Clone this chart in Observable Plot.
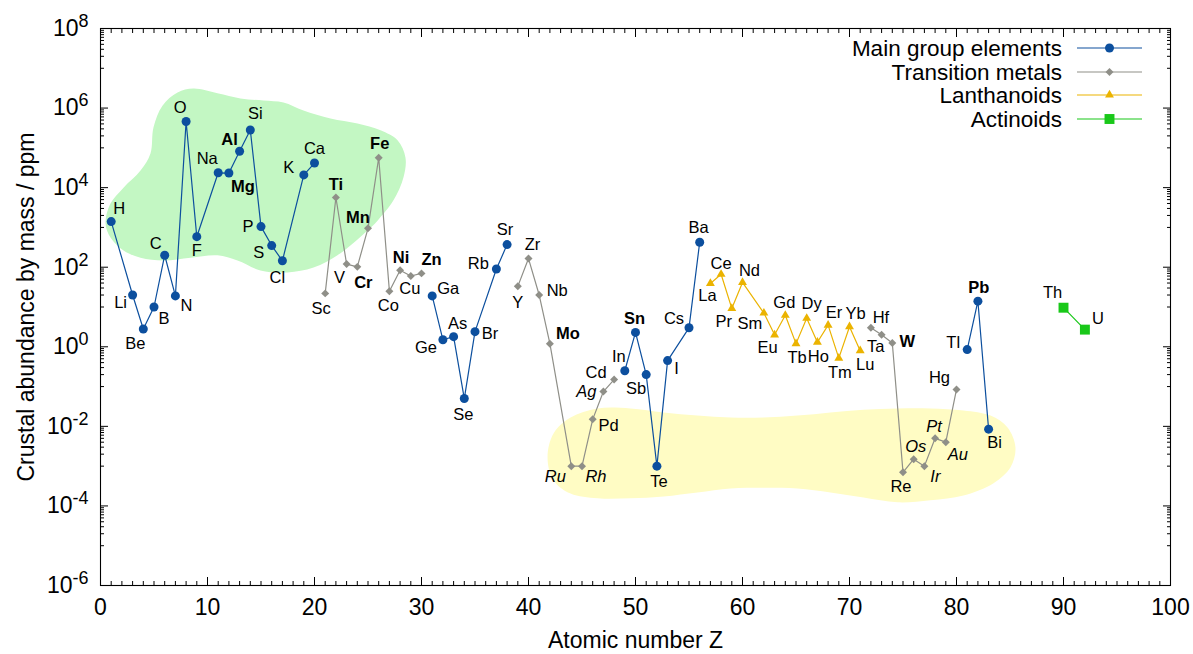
<!DOCTYPE html>
<html><head><meta charset="utf-8">
<script src="https://cdn.jsdelivr.net/npm/d3@7"></script>
<script src="https://cdn.jsdelivr.net/npm/@observablehq/plot@0.6"></script>
<style>
html,body{margin:0;padding:0;background:#fff;}
#chart{width:1193px;height:654px;}
</style></head><body><div id="chart"></div>
<script>
// ---------- data ----------
const mainSymbols = ["H","Li","Be","B","C","N","O","F","Na","Mg","Al","Si","P","S","Cl","K","Ca","Ga","Ge","As","Se","Br","Rb","Sr","In","Sn","Sb","Te","I","Cs","Ba","Tl","Pb","Bi"];
const mainZ = [1,3,4,5,6,7,8,9,11,12,13,14,15,16,17,19,20,31,32,33,34,35,37,38,49,50,51,52,53,55,56,81,82,83];
const mainPpm = [1400,20,2.8,10,200,19,461000,585,23600,23300,82300,282000,1050,350,145,20900,41500,19,1.5,1.8,0.05,2.4,90,370,0.25,2.3,0.2,0.001,0.45,3,425,0.85,14,0.0085];

const transSymbols = ["Sc","Ti","V","Cr","Mn","Fe","Co","Ni","Cu","Zn","Y","Zr","Nb","Mo","Ru","Rh","Pd","Ag","Cd","Hf","Ta","W","Re","Os","Ir","Pt","Au","Hg"];
const transZ = [21,22,23,24,25,26,27,28,29,30,39,40,41,42,44,45,46,47,48,72,73,74,75,76,77,78,79,80];
const transPpm = [22,5650,120,102,950,56300,25,84,60,70,33,165,20,1.2,0.001,0.001,0.015,0.075,0.15,3.0,2.0,1.25,0.0007,0.0015,0.001,0.005,0.004,0.085];

const lanSymbols = ["La","Ce","Pr","Nd","Sm","Eu","Gd","Tb","Dy","Ho","Er","Tm","Yb","Lu"];
const lanZ = [57,58,59,60,62,63,64,65,66,67,68,69,70,71];
const lanPpm = [39,66.5,9.2,41.5,7.05,2.0,6.2,1.2,5.2,1.3,3.5,0.52,3.2,0.8];

const actSymbols = ["Th","U"];
const actZ = [90,92];
const actPpm = [9.6,2.7];

const groupNames = ["Main group elements","Transition metals","Lanthanoids","Actinoids"];

// highlighted regions, outline as [Z, log10(ppm)]
const greenRegion = [[0.47,3.10],[0.93,3.60],[2.15,4.00],[3.74,4.43],[4.67,4.86],[4.95,5.51],[5.79,6.06],[7.2,6.39],[8.69,6.49],[10.93,6.37],[13.08,6.24],[15.23,6.19],[17.1,6.14],[18.97,5.94],[21.5,5.74],[24.02,5.61],[26.17,5.44],[27.76,5.19],[28.5,4.76],[28.32,4.26],[27.38,3.68],[25.89,3.17],[24.95,2.92],[22.43,2.35],[19.91,1.99],[17.48,1.87],[14.95,1.92],[12.8,2.17],[10.93,2.30],[8.41,2.24],[5.89,2.17],[3.74,2.24],[2.15,2.42],[0.93,2.75]];
const yellowRegion = [[41.78,-2.78],[42.34,-2.18],[43.93,-1.78],[46.45,-1.55],[49.53,-1.55],[52.62,-1.65],[55.79,-1.73],[58.88,-1.78],[61.96,-1.78],[65.14,-1.73],[68.22,-1.65],[71.31,-1.58],[74.49,-1.55],[77.57,-1.55],[80.65,-1.6],[83.18,-1.73],[84.77,-2.03],[85.51,-2.53],[85.05,-3.03],[83.46,-3.43],[80.65,-3.74],[77.57,-3.86],[74.49,-3.91],[71.31,-3.79],[68.22,-3.66],[65.14,-3.56],[61.96,-3.54],[58.88,-3.56],[55.79,-3.66],[52.62,-3.76],[49.53,-3.81],[46.45,-3.81],[43.93,-3.69],[42.34,-3.36]];

const xMajorTicks = d3.range(0, 101, 10);
const yMajorTicks = [1e-6,1e-4,1e-2,1,1e2,1e4,1e6,1e8];

// ---------- styles (kept apart from data) ----------
const boldLabels = new Set(["Al","Mg","Ti","Mn","Fe","Ni","Cr","Zn","Mo","Sn","W","Pb"]);
const italicLabels = new Set(["Ru","Rh","Ag","Os","Ir","Pt","Au"]);
const labelOffset = {
  H:[8,-13],Li:[-12,8],Be:[-8,15],B:[10,12],C:[-9,-12],N:[11,10],O:[-6,-14],F:[0,14],Na:[-11,-14],Mg:[14,14],Al:[-10,-12],Si:[5,-16],P:[-13,0],S:[-13,7],Cl:[-5,17],K:[-15,-7],Ca:[0,-14],
  Sc:[-4,15],Ti:[0,-13],V:[-7,14],Cr:[6,16],Mn:[-10,-11],Fe:[1,-14],Co:[-1,15],Ni:[1,-13],Cu:[-1,13],Zn:[10,-14],Ga:[16,-7],Ge:[-17,8],As:[4,-13],Se:[-1,16],Br:[15,2],Rb:[-18,-5],Sr:[-2,-15],
  Y:[0,16],Zr:[4,-14],Nb:[18,-4],Mo:[18,-10],Ru:[-16,11],Rh:[14,11],Pd:[16,6],Ag:[-17,0],Cd:[-18,-7],In:[-6,-14],Sn:[-1,-14],Sb:[-10,14],Te:[2,16],I:[9,8],Cs:[-15,-9],Ba:[-1,-14],
  La:[-3,12],Ce:[0,-11],Pr:[-8,13],Nd:[7,-12],Sm:[-14,11],Eu:[-7,13],Gd:[-1,-13],Tb:[1,14],Dy:[5,-15],Ho:[1,14],Er:[6,-12],Tm:[1,15],Yb:[6,-13],Lu:[5,14],
  Hf:[10,-10],Ta:[-6,12],W:[15,-1],Re:[-2,14],Os:[2,-12],Ir:[11,11],Pt:[-1,-12],Au:[12,13],Hg:[-17,-12],Tl:[-14,-7],Pb:[1,-13],Bi:[6,14],Th:[-11,-15],U:[13,-11]
};
const groupStyle = [
  {color:"#0c4f9e", symbol:"circle", r:4.5},
  {color:"#8f8f88", symbol:"diamond2", r:3.6},
  {color:"#ebb300", symbol:"triangle", r:3.3},
  {color:"#19c819", symbol:"square", r:5.6}
];
const FONT = '"Liberation Sans", Arial, Helvetica, sans-serif';

// ---------- build rows ----------
function buildRows(symbols, Z, ppm, g) {
  let seg = 0;
  return symbols.map((s, i) => {
    if (i > 0 && Z[i] - Z[i-1] > 2) seg++;
    return {sym: s, Z: Z[i], ppm: ppm[i], group: g, seg: g * 100 + seg};
  });
}
const groups = [
  buildRows(mainSymbols, mainZ, mainPpm, 0),
  buildRows(transSymbols, transZ, transPpm, 1),
  buildRows(lanSymbols, lanZ, lanPpm, 2),
  buildRows(actSymbols, actZ, actPpm, 3)
];
const allRows = groups.flat();
const region = pts => pts.map(([z, l]) => ({Z: z, ppm: Math.pow(10, l)}));

const xMinor = d3.range(1, 100).filter(d => d % 10 !== 0);
const yMinor = [];
for (const j of [-5,-3,-1,1,3,5,7]) for (let m = 1; m <= 9; m++) yMinor.push(m * Math.pow(10, j));

const marks = [
  Plot.line(region(greenRegion), {x:"Z", y:"ppm", curve:"catmull-rom-closed", fill:"#c3f7c3", stroke:"none"}),
  Plot.line(region(yellowRegion), {x:"Z", y:"ppm", curve:"catmull-rom-closed", fill:"#fffcc4", stroke:"none"}),
];
// inward ticks on all four sides (axis ticks shifted inside the frame)
const noText = () => "";
const tk = {label: null, tickFormat: noText, stroke: "black", strokeWidth: 1};
marks.push(
  Plot.axisX({anchor:"bottom", ticks: xMajorTicks, tickSize: 8, dy: -8, ...tk}),
  Plot.axisX({anchor:"top", ticks: xMajorTicks, tickSize: 8, dy: 8, ...tk}),
  Plot.axisX({anchor:"bottom", ticks: xMinor, tickSize: 4, dy: -4, ...tk}),
  Plot.axisX({anchor:"top", ticks: xMinor, tickSize: 4, dy: 4, ...tk}),
  Plot.axisY({anchor:"left", ticks: yMajorTicks, tickSize: 8, dx: 8, ...tk}),
  Plot.axisY({anchor:"right", ticks: yMajorTicks, tickSize: 8, dx: -8, ...tk}),
  Plot.axisY({anchor:"left", ticks: yMinor, tickSize: 4, dx: 4, ...tk}),
  Plot.axisY({anchor:"right", ticks: yMinor, tickSize: 4, dx: -4, ...tk})
);
// lines and points
groups.forEach((rows, g) => {
  const st = groupStyle[g];
  marks.push(Plot.line(rows, {x:"Z", y:"ppm", z:"seg", stroke: st.color, strokeWidth: 1.2}));
});
groups.forEach((rows, g) => {
  const st = groupStyle[g];
  marks.push(Plot.dot(rows, {x:"Z", y:"ppm", symbol: st.symbol, r: st.r, fill: st.color, stroke: "none"}));
});
// element labels
allRows.forEach(d => {
  const [dx, dy] = labelOffset[d.sym] || [0, -12];
  marks.push(Plot.text([d], {x:"Z", y:"ppm", text:"sym", dx, dy, fontSize: 16.5, fill:"black",
    fontWeight: boldLabels.has(d.sym) ? "bold" : "normal",
    fontStyle: italicLabels.has(d.sym) ? "italic" : "normal"}));
});
marks.push(
  Plot.frame({stroke:"black", strokeWidth:1.1, fill:"none"}),
  Plot.axisX({ticks: xMajorTicks, tickSize: 0, tickPadding: 13, fontSize: 23, label: null, tickFormat: d => String(d)}),
  Plot.axisY({ticks: yMajorTicks, tickSize: 0, tickPadding: 12, fontSize: 23, label: null, tickFormat: d => "10^" + Math.round(Math.log10(d))}),
  Plot.text(["Atomic number Z"], {frameAnchor:"bottom", textAnchor:"middle", lineAnchor:"middle", dy: 55, fontSize: 23, fill:"black"}),
  Plot.text(["Crustal abundance by mass / ppm"], {frameAnchor:"left", textAnchor:"middle", lineAnchor:"middle", dx: -74, rotate: -90, fontSize: 23, fill:"black"})
);

const svg = Plot.plot({
  width: 1193, height: 654,
  marginLeft: 100, marginRight: 23, marginTop: 28, marginBottom: 69,
  x: {domain: [0, 100]},
  y: {type: "log", domain: [1e-6, 1e8]},
  style: {fontFamily: FONT, background: "white", color: "black", overflow: "visible"},
  marks
});

// superscript exponents on y tick labels
d3.select(svg).selectAll('g[aria-label="y-axis tick label"] text').each(function() {
  const t = this.textContent;
  if (!t.includes("^")) return;
  const exp = t.split("^")[1];
  const sel = d3.select(this);
  sel.text("10");
  sel.append("tspan").attr("dy", "-0.5em").attr("font-size", "0.78em").text(exp);
});
// drop the empty labels of tick-only axes
d3.select(svg).selectAll('g[aria-label$="tick label"] text').filter(function() { return this.textContent === ""; }).remove();

// legend
const lg = d3.select(svg).append("g").attr("font-family", FONT).attr("font-size", 22.5);
const rowsY = [48, 72, 95, 119];
groupNames.forEach((name, i) => {
  const st = groupStyle[i];
  const y = rowsY[i];
  lg.append("text").attr("x", 1062).attr("y", y).attr("dy", "0.35em").attr("text-anchor", "end").attr("fill", "black").text(name);
  lg.append("line").attr("x1", 1077).attr("x2", 1142).attr("y1", y).attr("y2", y).attr("stroke", st.color).attr("stroke-width", 1.2);
  const symType = {circle: d3.symbolCircle, diamond2: d3.symbolDiamond2, triangle: d3.symbolTriangle, square: d3.symbolSquare}[st.symbol];
  lg.append("path").attr("transform", `translate(1109.5,${y})`).attr("d", d3.symbol(symType, Math.PI * st.r * st.r)()).attr("fill", st.color);
});

document.getElementById("chart").appendChild(svg);
</script>
</body></html>
